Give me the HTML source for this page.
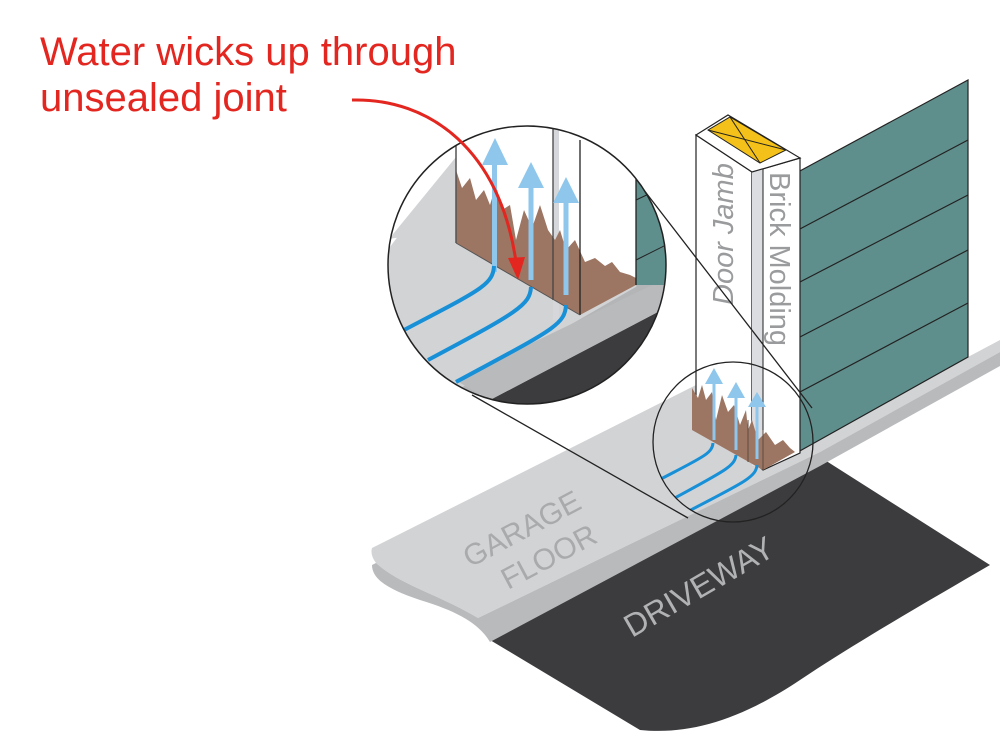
<!DOCTYPE html>
<html><head><meta charset="utf-8"><style>
html,body{margin:0;padding:0;background:#fff;}
svg{display:block}
</style></head><body>
<svg width="1000" height="750" viewBox="0 0 1000 750" xmlns="http://www.w3.org/2000/svg" font-family="Liberation Sans, sans-serif">
<defs>
<clipPath id="big"><circle cx="527" cy="265" r="139"/></clipPath>
<clipPath id="small"><circle cx="733" cy="442" r="80"/></clipPath>
</defs>
<!-- driveway -->
<path d="M490,640 L820,457 L990,565 C930,600 860,640 800,680 C740,720 690,735 640,730 Z" fill="#3c3c3e"/>
<!-- floor top -->
<path d="M372,548 L700,383 L968,250 L968,357 L1000,340 L1000,352 L820,452 L478,618 C440,595 400,585 376,563 Q370,555 372,548 Z" fill="#d2d3d5"/>
<!-- floor side face -->
<path d="M376,563 C400,585 440,595 478,618 L820,452 L1000,352 L1000,366 L820,466 L490,642 C480,625 460,612 420,600 C390,590 372,580 372,565 Z" fill="#b9babc"/>
<text transform="translate(470,568) rotate(-28)" font-size="30" fill="#a9aaac">GARAGE</text>
<text transform="translate(508,590) rotate(-28)" font-size="30" fill="#a9aaac">FLOOR</text>
<text transform="translate(632,638) rotate(-30)" font-size="32" fill="#b1b2b4">DRIVEWAY</text>
<!-- siding -->
<path d="M798,172 L968,80 L968,357 L798,452 Z" fill="#5f8f8c" stroke="#222" stroke-width="1.2"/>
<g stroke="#222" stroke-width="1.2">
<line x1="798" y1="230" x2="968" y2="140"/>
<line x1="798" y1="283" x2="968" y2="195"/>
<line x1="798" y1="338" x2="968" y2="250"/>
<line x1="798" y1="393" x2="968" y2="303"/>
</g>
<!-- jamb -->
<path d="M696,135 L752,172 L752,460 L696,430 Z" fill="#fff" stroke="#222" stroke-width="1.2"/>
<path d="M752,172 L800,158 L800,453 L763,470 L752,460 Z" fill="#fff" stroke="#222" stroke-width="1.2"/>
<rect x="752" y="168" width="11" height="298" fill="#dcdde0"/>
<line x1="763" y1="168" x2="763" y2="470" stroke="#222" stroke-width="1"/>
<path d="M696,135 L728,115 L800,158 L752,172 Z" fill="#fff" stroke="#222" stroke-width="1.2"/>
<path d="M708,130 L730,117 L786,150 L760,163 Z" fill="#f3c119" stroke="#222" stroke-width="1"/>
<line x1="708" y1="130" x2="786" y2="150" stroke="#222"/>
<line x1="730" y1="117" x2="760" y2="163" stroke="#222"/>
<text transform="translate(733,305) rotate(-90)" font-size="29" fill="#9a9b9d" font-style="italic">Door Jamb</text>
<text transform="translate(770,172) rotate(90)" font-size="29" fill="#9a9b9d">Brick Molding</text>
<!-- small circle content -->
<g clip-path="url(#small)">
<path d="M692,388 L698,398 L702,385 L706,400 L712,392 L716,420 L722,395 L728,412 L734,405 L740,425 L746,410 L748,430 L752,420 L758,440 L766,432 L775,445 L783,440 L790,448 L795,452 L763,470 L692,430 Z" fill="#9c7563"/>
<line x1="748" y1="420" x2="748" y2="462" stroke="#5b4a40"/>
<line x1="763" y1="430" x2="763" y2="470" stroke="#5b4a40"/>
<g fill="#8ec6ec" stroke="none">
<rect x="712.5" y="380" width="3" height="60"/><path d="M705,384 L714,368 L723,384 Z"/>
<rect x="734.5" y="395" width="3" height="55"/><path d="M727,398 L736,382 L745,398 Z"/>
<rect x="755.5" y="404" width="3" height="55"/><path d="M748,407 L757,392 L766,407 Z"/>
</g>
<g fill="none" stroke="#1790d8" stroke-width="3">
<path d="M713,443 C712,455 700,458 640,490"/>
<path d="M736,455 C735,467 722,472 662,505"/>
<path d="M757,465 C756,477 745,482 683,514"/>
</g>
</g>
<circle cx="733" cy="442" r="80" fill="none" stroke="#222" stroke-width="1.3"/>
<!-- connector lines -->
<line x1="640" y1="185" x2="812" y2="408" stroke="#222" stroke-width="1.3"/>
<line x1="472" y1="395" x2="688" y2="518" stroke="#222" stroke-width="1.3"/>
<!-- big circle content -->
<g clip-path="url(#big)">
<rect x="380" y="120" width="300" height="300" fill="#fff"/>
<path d="M380,260 L456,160 L456,243 L580,315 L636,285 L700,250 L700,420 L380,420 Z" fill="#d2d3d5"/>
<path d="M380,250 L456,157 L456,230 L380,240 Z" fill="#d2d3d5"/>
<path d="M636,285 L700,248 L700,275 L640,300 Z" fill="#b4b5b7"/>
<path d="M440,400 L700,250 L700,268 L460,405 Z" fill="#b4b5b7"/>
<path d="M490,400 L700,290 L700,420 L490,420 Z" fill="#3c3c3e"/>
<path d="M455,380 L700,262 L700,290 L490,400 Z" fill="#b9babc"/>
<rect x="636" y="160" width="60" height="125" fill="#5f8f8c"/>
<line x1="636" y1="200" x2="700" y2="170" stroke="#222"/>
<line x1="636" y1="260" x2="700" y2="228" stroke="#222"/>
<rect x="553" y="120" width="6" height="200" fill="#d6d7da"/>
<path d="M456,170 L462,188 L470,178 L476,200 L484,190 L490,205 L496,185 L502,210 L510,205 L516,240 L524,210 L532,228 L540,205 L548,230 L555,240 L560,230 L566,250 L575,240 L585,262 L595,258 L605,266 L612,262 L620,272 L630,275 L636,278 L636,285 L580,315 L456,243 Z" fill="#9c7563"/>
<line x1="456" y1="120" x2="456" y2="243" stroke="#555" stroke-width="1.5"/>
<line x1="553" y1="120" x2="553" y2="300" stroke="#444" stroke-width="1.3"/>
<line x1="580" y1="140" x2="580" y2="315" stroke="#222" stroke-width="1.3"/>
<line x1="636" y1="150" x2="636" y2="285" stroke="#222" stroke-width="1.3"/>
<line x1="456" y1="243" x2="580" y2="315" stroke="#555" stroke-width="1"/>
<g fill="#8ec6ec">
<rect x="492" y="160" width="5" height="112"/><path d="M482,165 L495,138 L508,165 Z"/>
<rect x="528.5" y="185" width="5" height="95"/><path d="M518,188 L531,162 L544,188 Z"/>
<rect x="563.5" y="200" width="5" height="95"/><path d="M553,203 L566,177 L579,203 Z"/>
</g>
<g fill="none" stroke="#1790d8" stroke-width="4">
<path d="M494,266 C493,285 480,290 404,330"/>
<path d="M531,287 C530,305 518,312 428,360"/>
<path d="M566,305 C565,325 552,330 456,382"/>
</g>
</g>
<circle cx="527" cy="265" r="139" fill="none" stroke="#222" stroke-width="1.5"/>
<!-- red callout -->
<text x="40" y="65" font-size="40" fill="#e3261f">Water wicks up through</text>
<text x="40" y="111" font-size="40" fill="#e3261f">unsealed joint</text>
<path d="M352,100 C430,98 500,150 516,262" fill="none" stroke="#e3261f" stroke-width="3"/>
<path d="M508,258 L518,280 L525,257 Z" fill="#e3261f"/>
</svg>
</body></html>
